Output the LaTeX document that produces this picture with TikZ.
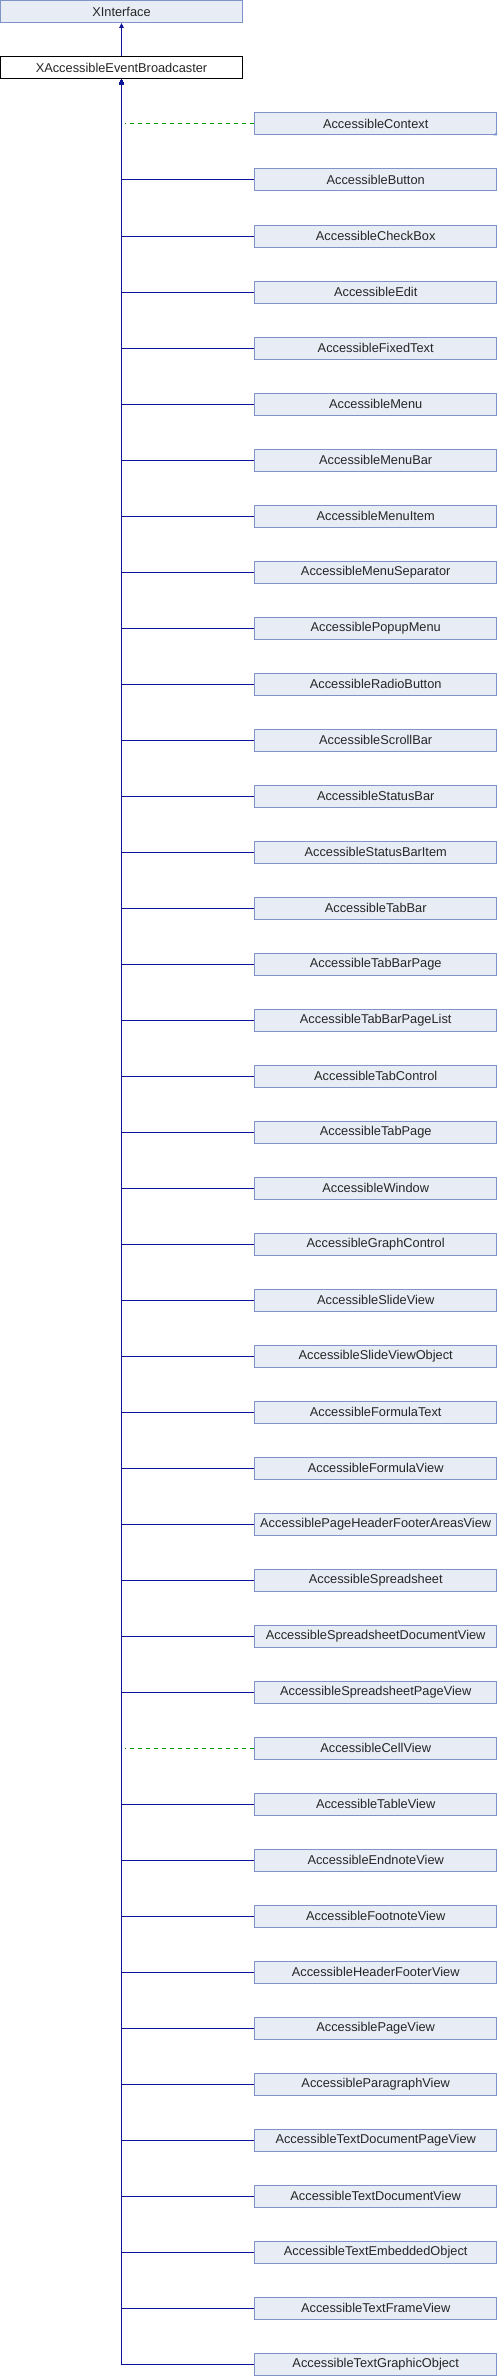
\documentclass[tikz,border=0pt]{standalone}
\usepackage{fontspec}
\setmainfont{Liberation Sans}
\usetikzlibrary{arrows.meta}
\definecolor{boxfill}{RGB}{232,236,244}
\definecolor{boxline}{RGB}{126,148,200}
\definecolor{edgeblue}{RGB}{10,20,155}
\definecolor{edgegreen}{RGB}{0,150,0}
\tikzset{
  cls/.style={draw=boxline, fill=boxfill, line width=1pt, minimum width=242pt, minimum height=22pt,
    inner sep=0pt, font=\fontsize{12.8pt}{14pt}\selectfont, text=black!85},
  clsroot/.style={cls, draw=black, fill=white},
  edge/.style={draw=edgeblue, line width=1pt, -{Triangle[length=5pt,width=4.5pt]}},
  dashedge/.style={draw=edgegreen, line width=1pt, dash pattern=on 4pt off 4pt}
}
\begin{document}
\begin{tikzpicture}[x=1pt,y=-1pt]
\useasboundingbox (0,0) rectangle (498,2376);
\node[cls] (xi) at (121.5,11.5) {XInterface};
\node[clsroot] (bro) at (121.5,67.7) {XAccessibleEventBroadcaster};
\draw[edge] (bro.north) -- (xi.south);
\coordinate (trunkd) at (125,0);
\foreach \name [count=\i from 0] in {AccessibleContext,AccessibleButton,AccessibleCheckBox,AccessibleEdit,AccessibleFixedText,AccessibleMenu,AccessibleMenuBar,AccessibleMenuItem,AccessibleMenuSeparator,AccessiblePopupMenu,AccessibleRadioButton,AccessibleScrollBar,AccessibleStatusBar,AccessibleStatusBarItem,AccessibleTabBar,AccessibleTabBarPage,AccessibleTabBarPageList,AccessibleTabControl,AccessibleTabPage,AccessibleWindow,AccessibleGraphControl,AccessibleSlideView,AccessibleSlideViewObject,AccessibleFormulaText,AccessibleFormulaView,AccessiblePageHeaderFooterAreasView,AccessibleSpreadsheet,AccessibleSpreadsheetDocumentView,AccessibleSpreadsheetPageView,AccessibleCellView,AccessibleTableView,AccessibleEndnoteView,AccessibleFootnoteView,AccessibleHeaderFooterView,AccessiblePageView,AccessibleParagraphView,AccessibleTextDocumentPageView,AccessibleTextDocumentView,AccessibleTextEmbeddedObject,AccessibleTextFrameView,AccessibleTextGraphicObject}{
  \node[cls] (c\i) at (375.7,{124+56*\i}) {\name};
}
% solid inheritance edges
\foreach \i in {1,...,28,30,31,...,40}{
  \draw[edge] (c\i.west) -| (bro.south);
}
% dashed edges
\draw[dashedge] (c0.west) -- (c0.west -| trunkd);
\draw[dashedge] (c29.west) -- (c29.west -| trunkd);
% folded corner mark on AccessibleContext
\fill[boxline] (c0.south east) -- ++(-4,0) -- ++(4,-4) -- cycle;
\end{tikzpicture}
\end{document}
